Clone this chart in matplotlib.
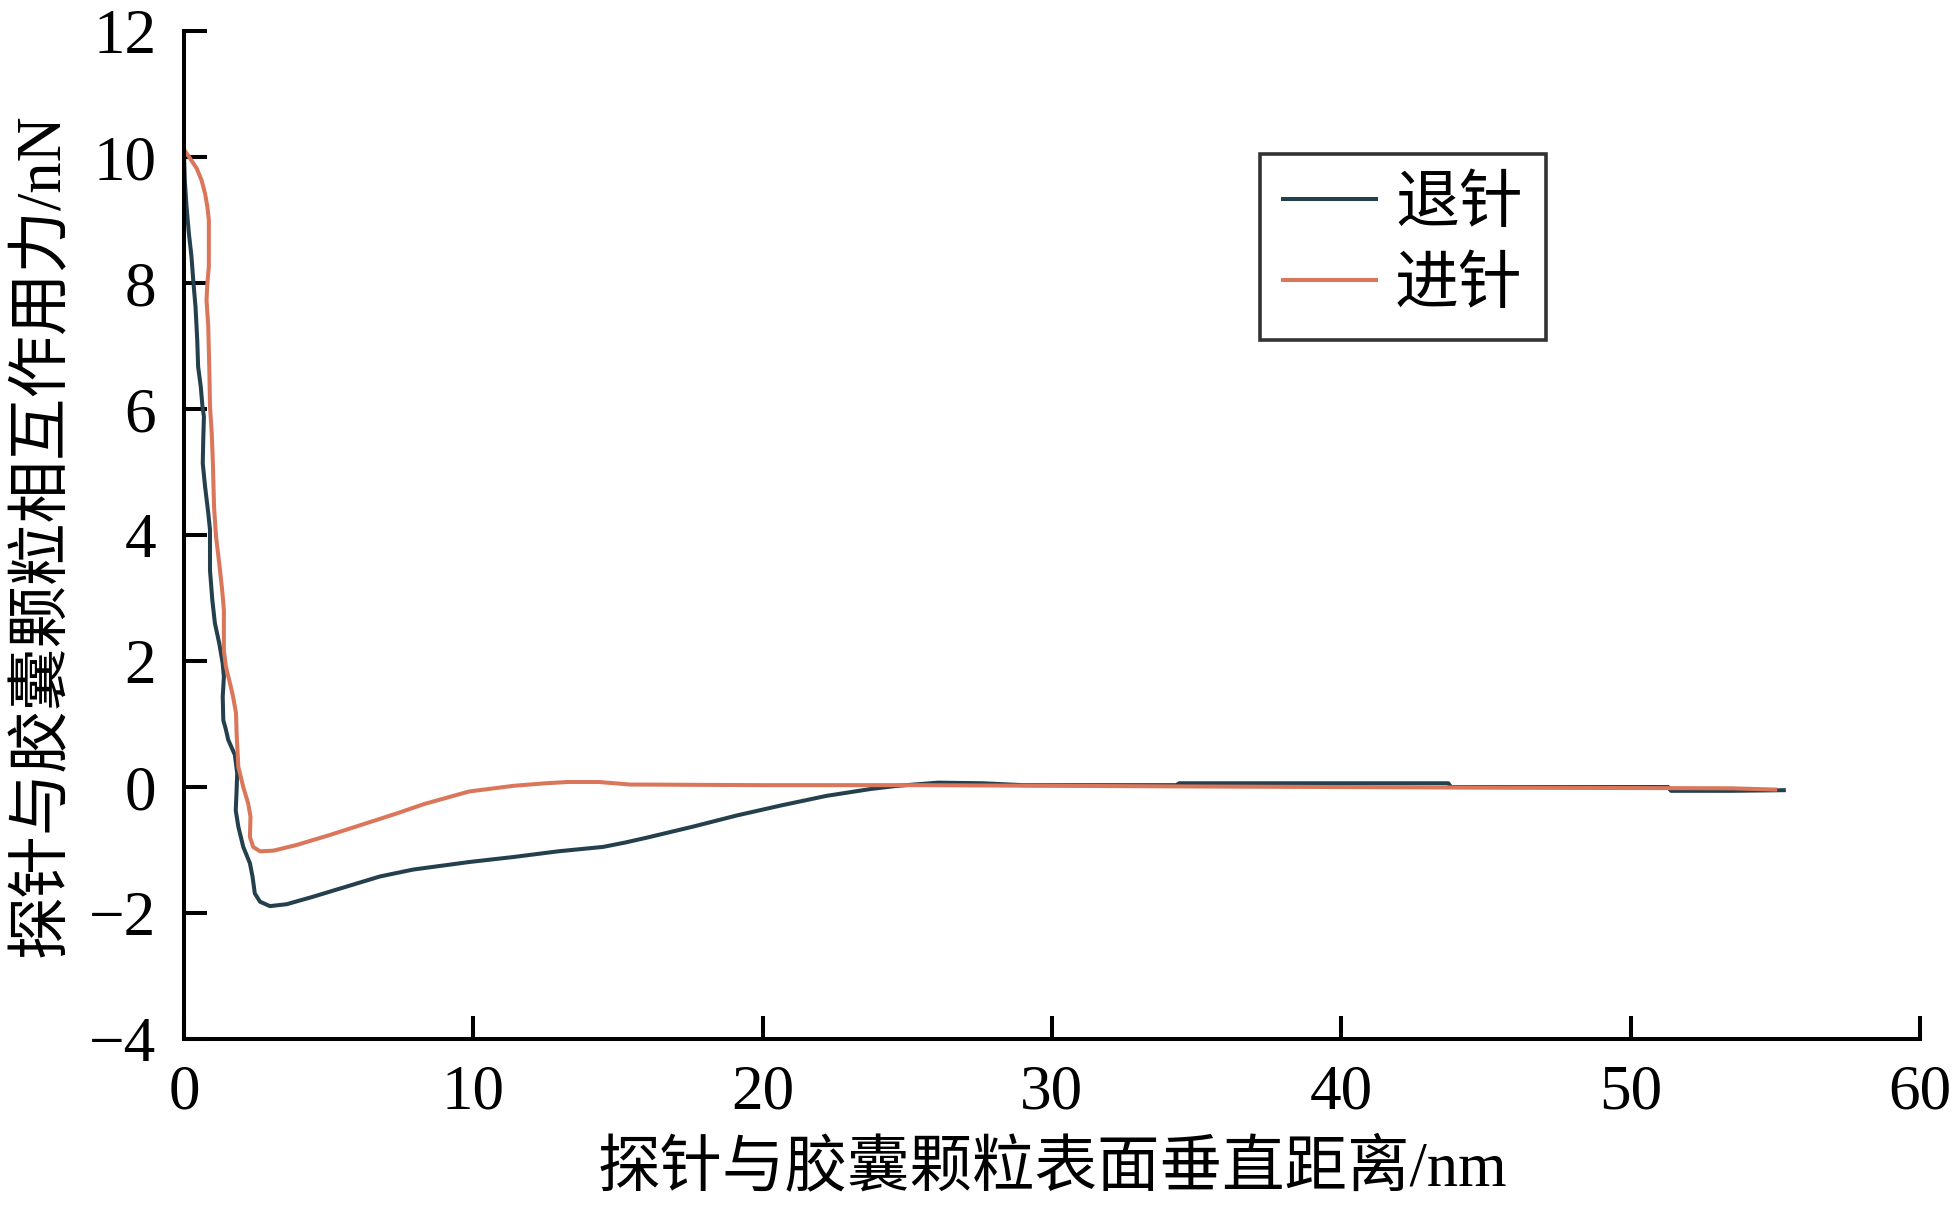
import matplotlib
matplotlib.use("Agg")
import matplotlib.pyplot as plt

plt.rcParams['font.family'] = ['Liberation Serif', 'Noto Sans CJK SC']
plt.rcParams['axes.unicode_minus'] = True

# 退针 (retract) curve
x_retract = [0.0, 0.03, 0.09, 0.17, 0.26, 0.32, 0.40, 0.46, 0.49, 0.58, 0.64, 0.69, 0.67,
             0.65, 0.73, 0.84, 0.90, 0.90, 0.98, 1.07, 1.22, 1.34, 1.38, 1.34, 1.36, 1.44,
             1.53, 1.76, 1.84, 1.82, 1.79, 1.88, 2.05, 2.28, 2.37, 2.45, 2.63, 2.97, 3.55,
             4.47, 5.62, 6.77, 7.92, 9.86, 11.4, 12.94, 14.49, 15.26, 16.03, 17.58,
             19.12, 20.66, 22.21, 23.75, 24.68, 26.07, 27.6, 29.0, 34.3, 34.4, 43.7, 43.8,
             51.3, 51.4, 53.5, 55.3]
y_retract = [10.06, 9.63, 9.21, 8.79, 8.42, 8.05, 7.62, 7.09, 6.67, 6.36, 6.04, 5.88, 5.56,
             5.14, 4.77, 4.35, 4.08, 3.44, 2.97, 2.60, 2.28, 1.96, 1.75, 1.43, 1.06, 0.93,
             0.75, 0.51, 0.22, -0.05, -0.37, -0.63, -0.95, -1.21, -1.42, -1.69, -1.82, -1.89, -1.86,
             -1.74, -1.58, -1.42, -1.31, -1.19, -1.11, -1.02, -0.95, -0.88, -0.80, -0.63,
             -0.45, -0.29, -0.14, -0.03, 0.02, 0.07, 0.06, 0.03, 0.03, 0.06, 0.06, 0.0,
             0.0, -0.06, -0.06, -0.05]

# 进针 (approach) curve
x_approach = [0.0, 0.21, 0.44, 0.61, 0.73, 0.81, 0.86, 0.86, 0.81, 0.78, 0.84, 0.88, 0.90,
              0.96, 1.00, 1.04, 1.11, 1.22, 1.32, 1.38, 1.38, 1.45, 1.59, 1.70, 1.80, 1.82,
              1.88, 2.05, 2.22, 2.30, 2.28, 2.39, 2.63, 3.09, 3.89, 5.05, 6.20, 7.35, 8.30,
              9.86, 11.4, 12.5, 13.26, 14.34, 15.42, 20.0, 25.0, 30.0, 34.4, 40.0, 45.0,
              53.5, 55.0]
y_approach = [10.12, 9.98, 9.82, 9.63, 9.42, 9.21, 9.00, 8.26, 8.00, 7.73, 7.31, 6.57, 6.04,
              5.62, 5.14, 4.45, 3.97, 3.55, 3.13, 2.81, 2.17, 1.91, 1.65, 1.43, 1.17, 0.85,
              0.32, 0.00, -0.26, -0.47, -0.79, -0.95, -1.02, -1.01, -0.92, -0.76, -0.59, -0.42, -0.27,
              -0.07, 0.02, 0.06, 0.08, 0.08, 0.04, 0.03, 0.03, 0.02, 0.01, 0.0, -0.01,
              -0.02, -0.04]

x_ticks = [0, 10, 20, 30, 40, 50, 60]
y_ticks = [-4, -2, 0, 2, 4, 6, 8, 10, 12]
labels = ['退针', '进针']
colors = ['#24404D', '#DA765A']

fig = plt.figure(figsize=(19.59, 12.12), dpi=100)
ax = fig.add_axes([0.0939, 0.1427, 0.8861, 0.8317])

ax.plot(x_retract, y_retract, color=colors[0], lw=2.9, label=labels[0],
        solid_joinstyle='round')
ax.plot(x_approach, y_approach, color=colors[1], lw=2.9, label=labels[1],
        solid_joinstyle='round')

ax.set_xlim(0, 60)
ax.set_ylim(-4, 12)
ax.set_xticks(x_ticks)
ax.set_yticks(y_ticks)
for s in ['top', 'right']:
    ax.spines[s].set_visible(False)
for s in ['left', 'bottom']:
    ax.spines[s].set_linewidth(2.9)
ax.tick_params(direction='in', length=16.5, width=2.9, labelsize=45.5)
ax.tick_params(axis='x', pad=18)
ax.tick_params(axis='y', pad=20)

ax.set_xlabel('探针与胶囊颗粒表面垂直距离/nm', fontsize=45, labelpad=14)
ax.set_ylabel('探针与胶囊颗粒相互作用力/nN', fontsize=45, labelpad=12)

leg = ax.legend(loc='upper left', bbox_to_anchor=(0.620, 0.878), borderaxespad=0,
                fontsize=46, frameon=True, fancybox=False, edgecolor='black',
                handlelength=1.45, handletextpad=0.3, borderpad=0.36, labelspacing=0.35)
leg.get_frame().set_linewidth(2.6)

fig.savefig('out.png', dpi=100)
